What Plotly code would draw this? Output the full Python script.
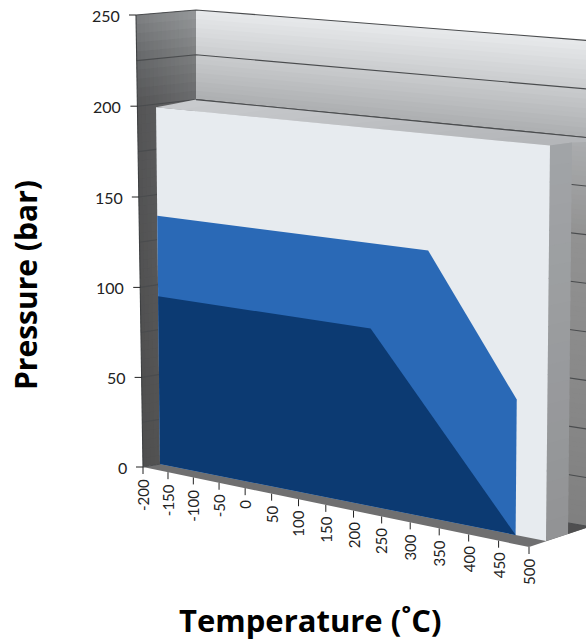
import numpy as np
import plotly.graph_objects as go

# ---------- data ----------
temperature_ticks = [-200, -150, -100, -50, 0, 50, 100, 150, 200, 250, 300, 350, 400, 450, 500]
pressure_ticks = [0, 50, 100, 150, 200, 250]
pressure_grid = [0, 25, 50, 75, 100, 125, 150, 175, 200, 225, 250]

envelope_temp = [-200, 500, 500, -200]
envelope_pres = [0, 0, 200, 200]
outer_temp = [-200, 300, 450, 450, -200]
outer_pres = [140, 140, 70, 0, 0]
inner_temp = [-200, 200, 450, -200]
inner_pres = [95, 95, 0, 0]

# ---------- pseudo-3D scale calibration (pixel corners of each depth plane) ----------
T0, T1, P0, P1 = -200.0, 500.0, 0.0, 250.0


def plane(c00, c10, c11, c01):
    """Projective scale from (T, P) to pixels; corners are at (T0,P0),(T1,P0),(T1,P1),(T0,P1)."""
    src = [(0, 0), (1, 0), (1, 1), (0, 1)]
    A, b = [], []
    for (u, v), (x, y) in zip(src, [c00, c10, c11, c01]):
        A.append([u, v, 1, 0, 0, 0, -u * x, -v * x]); b.append(x)
        A.append([0, 0, 0, u, v, 1, -u * y, -v * y]); b.append(y)
    h = np.linalg.solve(np.array(A, float), np.array(b, float))

    def f(t, p):
        u = (np.asarray(t, float) - T0) / (T1 - T0)
        v = (np.asarray(p, float) - P0) / (P1 - P0)
        w = h[6] * u + h[7] * v + 1
        return (h[0] * u + h[1] * v + h[2]) / w, (h[3] * u + h[4] * v + h[5]) / w
    return f


front = plane((143, 467), (529, 547), (526, 45), (136, 15))
slab_ = plane((160, 464), (546, 541), (551, 44), (155, 16))
slab_back = plane((176, 461), (568, 534), (573, 42), (171, 13))
back = plane((196, 458), (620, 532), (620, 43), (196, 10))


def back_temp_at(px):
    ts = np.linspace(T0, T1, 701)
    return float(np.interp(px, back(ts, 0)[0], ts))


def mix(a, b, s):
    a, b = np.array(a, float), np.array(b, float)
    c = a + (b - a) * s
    return "rgb(%d,%d,%d)" % tuple(c.round())


def lerp_stops(stops, x):
    xs = [s[0] for s in stops]
    return [np.interp(x, xs, [s[1][i] for s in stops]) for i in range(3)]


fig = go.Figure()


def poly(xs, ys, color):
    fig.add_trace(go.Scatter(
        x=list(xs), y=list(ys), mode="lines", fill="toself", fillcolor=color,
        line=dict(color=color, width=0), hoverinfo="skip", showlegend=False))


def seg(x, y, color="#3f4142", w=1.0):
    fig.add_trace(go.Scatter(x=list(x), y=list(y), mode="lines",
                             line=dict(color=color, width=w), hoverinfo="skip", showlegend=False))


# back wall
wall_stops = [(0, (128, 128, 128)), (150, (146, 146, 146)), (200, (172, 174, 176)), (250, (232, 234, 236))]
edges = np.arange(0, 250.1, 2.5)
for a, b in zip(edges[:-1], edges[1:]):
    top = min(b + 1.0, 250)
    xa0, ya0 = back(T0, a); xa1, ya1 = back(T1, a)
    xb0, yb0 = back(T0, top); xb1, yb1 = back(T1, top)
    poly([xa0, xa1, xb1, xb0], [ya0, ya1, yb1, yb0], "rgb(%d,%d,%d)" % tuple(np.round(lerp_stops(wall_stops, (a + b) / 2))))

# left wall
left_front = [(0, (78, 78, 78)), (200, (84, 84, 85)), (225, (100, 102, 104)), (250, (125, 127, 129))]
left_back = [(0, (92, 92, 92)), (200, (105, 106, 108)), (225, (125, 127, 128)), (250, (150, 153, 155))]
us = np.linspace(0, 1, 15)
wall_edges = np.arange(0, 250.1, 5.0)
for a, b in zip(wall_edges[:-1], wall_edges[1:]):
    top = min(b + 1.5, 250)
    fa = front(T0, a); fb = front(T0, top); ba = back(T0, a); bb = back(T0, top)
    for u0, u1 in zip(us[:-1], us[1:]):
        u2 = min(u1 + 0.04, 1)
        xs = [fa[0] + (ba[0] - fa[0]) * u0, fa[0] + (ba[0] - fa[0]) * u2, fb[0] + (bb[0] - fb[0]) * u2, fb[0] + (bb[0] - fb[0]) * u0]
        ys = [fa[1] + (ba[1] - fa[1]) * u0, fa[1] + (ba[1] - fa[1]) * u2, fb[1] + (bb[1] - fb[1]) * u2, fb[1] + (bb[1] - fb[1]) * u0]
        um = (u0 + u1) / 2
        col = mix(lerp_stops(left_front, (a + b) / 2), lerp_stops(left_back, (a + b) / 2), um)
        poly(xs, ys, col)

# floor
T_corner = back_temp_at(590)
T_side = back_temp_at(568)
fx = [front(T0, 0)[0], front(T1, 0)[0], back(T_corner, 0)[0], back(T0, 0)[0]]
fy = [front(T0, 0)[1], front(T1, 0)[1], back(T_corner, 0)[1], back(T0, 0)[1]]
poly(fx, fy, "#6f6f70")
poly([slab_back(T1, 0)[0], back(T_corner, 0)[0], back(T_side, 0)[0]],
     [slab_back(T1, 0)[1], back(T_corner, 0)[1], back(T_side, 0)[1]], "#4f4f50")

# gridlines on the walls
for p in pressure_grid:
    x0, y0 = front(T0, p); x1, y1 = back(T0, p); x2, y2 = back(T1, p)
    seg([x0, x1, x2], [y0, y1, y2], "#4a4c4e", 1.1)
seg(*zip(front(T0, 0), front(T0, 250)), "#3e4042", 1.1)

# envelope slab: top face
top_cols = np.linspace(T0, T1, 15)
for i, (a, b) in enumerate(zip(top_cols[:-1], top_cols[1:])):
    p = 200
    c = min(b + 8, T1)
    xs = [slab_(a, p)[0], slab_(c, p)[0], slab_back(c, p)[0], back(c, p)[0], back(a, p)[0], slab_back(a, p)[0]]
    ys = [slab_(a, p)[1], slab_(c, p)[1], slab_back(c, p)[1], back(c, p)[1], back(a, p)[1], slab_back(a, p)[1]]
    s = (a - T0) / (T1 - T0)
    poly(xs, ys, mix((200, 202, 205), (178, 180, 183), s))
gx, gy = back([T0, T1], [200, 200])
seg(gx, gy, "#4a4c4e", 1.1)

# envelope slab: right side
side = np.arange(0, 200, 10.0)
for a in side:
    b = min(a + 12, 200)
    xs = [slab_(T1, a)[0], slab_back(T1, a)[0], slab_back(T1, b)[0], slab_(T1, b)[0]]
    ys = [slab_(T1, a)[1], slab_back(T1, a)[1], slab_back(T1, b)[1], slab_(T1, b)[1]]
    poly(xs, ys, mix((146, 147, 149), (162, 165, 168), a / 200))

# envelope and rated regions
ex, ey = slab_(envelope_temp, envelope_pres)
poly(ex, ey, "#e7ebef")
ox, oy = slab_(outer_temp, outer_pres)
poly(ox, oy, "#2a69b6")
ix, iy = slab_(inner_temp, inner_pres)
poly(ix, iy, "#0c3a72")

# axis ticks and labels
annots = []
for p in pressure_ticks:
    x, y = front(T0, p)
    seg([x - 7, x], [y, y], "#222222", 1.0)
    annots.append(dict(x=x - 14, y=y, text=str(p), xanchor="right", yanchor="middle", showarrow=False,
                       font=dict(family="Lato", size=16, color="#222222")))
for t in temperature_ticks:
    x, y = front(t, 0)
    seg([x, x], [y, y + 7], "#222222", 1.0)
    annots.append(dict(x=x, y=y + 10, text=str(t), textangle=-90, xanchor="center", yanchor="top", showarrow=False,
                       font=dict(family="Lato", size=15, color="#222222")))
annots.append(dict(x=310, y=620, text="<b>Temperature (˚C)</b>", xanchor="center", yanchor="middle", showarrow=False,
                   font=dict(family="Open Sans", size=31, color="#000000")))
annots.append(dict(x=25, y=285, text="<b>Pressure (bar)</b>", textangle=-90, xanchor="center", yanchor="middle", showarrow=False,
                   font=dict(family="Open Sans", size=30, color="#000000")))

fig.update_layout(
    width=586, height=643, margin=dict(l=0, r=0, t=0, b=0),
    paper_bgcolor="white", plot_bgcolor="white", showlegend=False, annotations=annots,
    xaxis=dict(range=[0, 586], visible=False, fixedrange=True),
    yaxis=dict(range=[643, 0], visible=False, fixedrange=True),
)
fig.write_html("out.html", config=dict(displayModeBar=False),
               post_script="document.body.style.margin='0';document.documentElement.style.overflow='hidden';")
